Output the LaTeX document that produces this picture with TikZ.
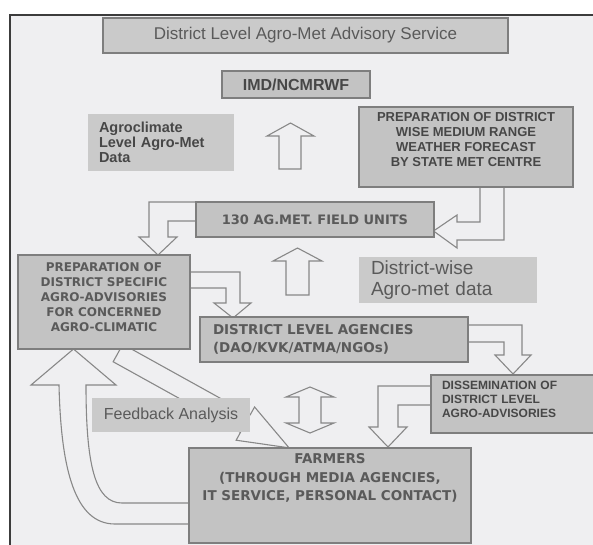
\documentclass[tikz,border=0pt]{standalone}
\usepackage{fontspec}
\setmainfont{Liberation Sans}
\newfontfamily\vfont{DejaVu Sans}

\definecolor{bgfill}{HTML}{EFEFF1}
\definecolor{boxfill}{HTML}{C3C3C3}
\definecolor{tagfill}{HTML}{CACACA}
\definecolor{edge}{HTML}{7E7E7E}
\definecolor{arrowline}{HTML}{888888}
\definecolor{ink}{HTML}{474747}
\definecolor{softink}{HTML}{5A5A5A}
\definecolor{frameline}{HTML}{3C3C3C}

\begin{document}
\begin{tikzpicture}[x=1pt,y=-1pt,
  box/.style={draw=edge, fill=boxfill, line width=1.4pt, inner sep=0pt, outer sep=0pt, text=ink},
  tag/.style={fill=tagfill, inner sep=0pt, outer sep=0pt, text=ink},
  hollow/.style={draw=arrowline, fill=bgfill, line width=1.1pt, line join=miter}]
\useasboundingbox (0,0) rectangle (593,544);
\clip (0,0) rectangle (593,544);
\fill[white] (0,0) rectangle (593,544);
% outer frame, open to the right and bottom
\filldraw[fill=bgfill, draw=frameline, line width=1.2pt] (10,15) rectangle (640,580);

% ---------- hollow block arrows (drawn first, boxes cover their ends) ----------
% up arrow below IMD/NCMRWF
\path[hollow] (279,169) -- (279,136) -- (267,136) -- (290.5,123) -- (314,136)
  -- (301,136) -- (301,169) -- cycle;
% up arrow below the field units
\path[hollow] (286,295) -- (286,261) -- (273,261) -- (297.5,248) -- (322,261)
  -- (309,261) -- (309,295) -- cycle;
% two-way arrow between agencies and farmers
\path[hollow] (299,397) -- (286,397) -- (310,387) -- (334,397) -- (321,397)
  -- (321,423) -- (334,423) -- (310,433) -- (286,423) -- (299,423) -- cycle;
% forecast -> field units
\path[hollow] (480,186) -- (480,222) -- (457,222) -- (457,215) -- (433.5,231)
  -- (457,248) -- (457,240) -- (504,240) -- (504,186);
% field units -> district advisories
\path[hollow] (197,202) -- (149,202) -- (149,237) -- (139,237) -- (158,255)
  -- (177,237) -- (168,237) -- (168,221) -- (197,221);
% district advisories -> agencies
\path[hollow] (189,272) -- (240,272) -- (240,303) -- (251,303) -- (233,318)
  -- (214,303) -- (226,303) -- (226,288) -- (189,288);
% agencies -> dissemination
\path[hollow] (467,325) -- (522,325) -- (522,355) -- (531,355) -- (513,374)
  -- (495,355) -- (504,355) -- (504,342) -- (467,342);
% dissemination -> farmers
\path[hollow] (432,386) -- (378,386) -- (378,427) -- (369,427) -- (388,447)
  -- (407,427) -- (398,427) -- (398,405) -- (432,405);
% farmers -> district advisories (curved return)
\path[hollow] (190,524) -- (115,524) .. controls (75,524) and (61,470) .. (59,385)
  -- (31,385) -- (73.5,349) -- (116,385) -- (86,385)
  .. controls (86,465) and (95,503) .. (122,503) -- (190,503);
% district advisories -> farmers (diagonal)
\begin{scope}[shift={(118,353)}, rotate=-29]
  \path[hollow] (0,-10) -- (145.6,-10) -- (145.6,-19) -- (195.6,0) -- (145.6,19)
    -- (145.6,10) -- (0,10) -- cycle;
\end{scope}

% ---------- boxes ----------
\node[box, fill=tagfill, minimum width=405pt, minimum height=35pt, text=softink,
  font=\fontsize{17}{20}\selectfont] (title) at (305.5,35.5)
  {District Level Agro-Met Advisory Service};
\node[box, minimum width=148pt, minimum height=27pt,
  font=\bfseries\fontsize{16}{18}\selectfont] (imd) at (296,84.5) {IMD/NCMRWF};
\node[tag, minimum width=146pt, minimum height=57pt, text width=124pt, align=left,
  font=\bfseries\fontsize{14.5}{15}\selectfont] (agro) at (161,142.5)
  {Agroclimate\\Level Agro-Met\\Data};
\node[box, minimum width=214pt, minimum height=80pt, align=center,
  font=\bfseries\fontsize{13}{15}\selectfont] (forecast) at (466,147)
  {PREPARATION OF DISTRICT\\WISE MEDIUM RANGE\\WEATHER FORECAST\\BY STATE MET CENTRE\\\mbox{}};
\node[box, minimum width=238pt, minimum height=35pt, text=softink,
  font=\vfont\bfseries\fontsize{13}{15}\selectfont] (units) at (315,219.5)
  {130 AG.MET. FIELD UNITS};
\node[box, minimum width=172pt, minimum height=94pt, align=center, text=softink,
  font=\vfont\bfseries\fontsize{12}{15}\selectfont] (prep) at (104,302)
  {PREPARATION OF\\DISTRICT SPECIFIC\\AGRO-ADVISORIES\\FOR CONCERNED\\AGRO-CLIMATIC\\[-5pt]\mbox{}};
\node[tag, minimum width=178pt, minimum height=46pt, text width=154pt, align=left,
  text=softink, font=\fontsize{19}{21}\selectfont] (dwise) at (448,280)
  {District-wise\\Agro-met data};
\node[box, minimum width=268pt, minimum height=45pt, text width=242pt, align=left,
  text=softink, font=\vfont\bfseries\fontsize{13.5}{18}\selectfont] (agencies) at (334,339.5)
  {DISTRICT LEVEL AGENCIES\\(DAO/KVK/ATMA/NGOs)};
\node[box, minimum width=189pt, minimum height=58pt, text width=167pt, align=left,
  font=\bfseries\fontsize{12}{14}\selectfont] (dissem) at (525.5,404)
  {DISSEMINATION OF\\DISTRICT LEVEL\\AGRO-ADVISORIES\\[-4pt]\mbox{}};
\node[tag, minimum width=158pt, minimum height=34pt, text=softink,
  font=\fontsize{16}{18}\selectfont] (feedback) at (171,415) {Feedback Analysis};
\node[box, minimum width=282pt, minimum height=95pt, align=center, text=softink,
  font=\vfont\bfseries\fontsize{13.5}{18.5}\selectfont] (farmers) at (330,495.5)
  {FARMERS\\(THROUGH MEDIA AGENCIES,\\IT SERVICE, PERSONAL CONTACT)\\\mbox{}\\\mbox{}};
\end{tikzpicture}
\end{document}
